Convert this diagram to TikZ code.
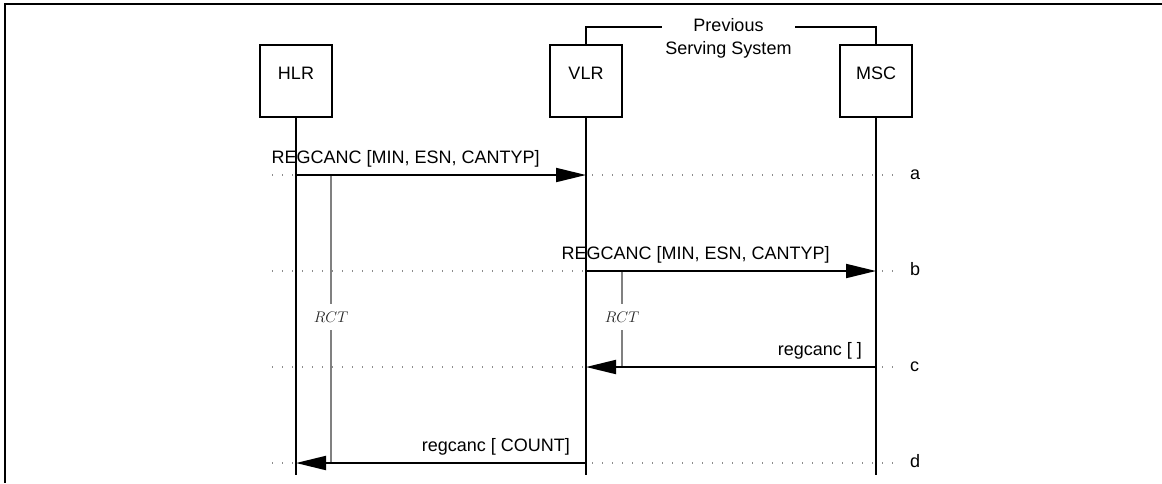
\documentclass[tikz,border=0pt]{standalone}
\usepackage{fontspec}
\setmainfont{Liberation Sans}
\usepackage{tikz}
\usetikzlibrary{
  arrows.meta,
  positioning,
  calc
}
\definecolor{scTimer}{HTML}{808080}
\definecolor{scGuide}{HTML}{8C8C8C}
\tikzset{
  entity/.style={
    draw, line width=2pt, minimum width=72pt, minimum height=72pt,
    inner sep=0pt, text height=12.9pt, text depth=16.9pt
  },
  lifeline/.style={line width=1.8pt},
  msgflow/.style={-{Triangle[length=30pt, width=14pt]}, line width=2pt},
  guideline/.style={scGuide, line width=1.2pt, dash pattern=on 1.2pt off 8.8pt},
  msgtag/.style={inner sep=0pt},
  timer/.style={scTimer, line width=2pt},
  timertag/.style={fill=white, text=black!85, inner xsep=2pt, inner ysep=7.5pt, scale=1.07, font=\fontsize{14.4}{18}\selectfont},
  steptag/.style={inner sep=0pt, anchor=base west},
  framebar/.style={line width=2.6pt},
  bracket/.style={line width=1.6pt}
}
\begin{document}
\begin{tikzpicture}[x=1pt, y=-1pt, node distance=216pt, font=\fontsize{18}{23}\selectfont]
  \useasboundingbox (0,0) rectangle (1162,483);
  \draw[framebar] (1162,4) -| (5,483);

  % entities
  \node[entity] (hlr) at (296,81) {HLR};
  \node[entity, right=of hlr] (vlr) {VLR};
  \node[entity, right=of vlr] (msc) {MSC};

  \foreach \ent in {hlr, vlr, msc} {
    \coordinate (\ent-end) at (\ent.south |- 0,475);
    \foreach \msg/\ypos in {a/175, b/271, c/367, d/463}
      \coordinate (\ent-\msg) at (\ent.south |- 0,\ypos);
  }

  % guides and step letters
  \foreach \msg in {a, b, c, d} {
    \draw[guideline] ([xshift=-24pt]hlr-\msg) -- ([xshift=21pt]msc-\msg);
    \node[steptag] (tag-\msg) at ([xshift=34pt, yshift=-4pt]msc-\msg) {\msg};
  }

  \foreach \ent in {hlr, vlr, msc}
    \draw[lifeline] (\ent.south) -- (\ent-end);

  % previous serving system
  \coordinate (pss-y) at (0,27);
  \node[inner xsep=3pt, inner ysep=0pt, align=center, anchor=base] (pss) at (728.5,54) {Previous\\Serving System};
  \draw[bracket] (vlr.north) |- (pss.west |- pss-y);
  \draw[bracket] (msc.north) |- (pss.east |- pss-y);

  % timers
  \coordinate (rct-hlr-top) at ([xshift=35pt]hlr-a);
  \coordinate (rct-hlr-bot) at ([xshift=35pt]hlr-d);
  \coordinate (rct-vlr-top) at ([xshift=36pt]vlr-b);
  \coordinate (rct-vlr-bot) at ([xshift=36pt]vlr-c);
  \draw[timer] (rct-hlr-top) -- node[timertag, pos=0.493] (rct-hlr) {$RCT$} (rct-hlr-bot);
  \draw[timer] (rct-vlr-top) -- node[timertag, pos=0.479] (rct-vlr) {$RCT$} (rct-vlr-bot);

  % messages
  \draw[msgflow] (hlr-a) -- (vlr-a);
  \node[msgtag, anchor=base west] (lbl-a) at ([xshift=-24.5pt, yshift=12pt]hlr-a) {REGCANC [MIN, ESN, CANTYP]};
  \draw[msgflow] (vlr-b) -- (msc-b);
  \node[msgtag, anchor=base west] (lbl-b) at ([xshift=-24.5pt, yshift=12pt]vlr-b) {REGCANC [MIN, ESN, CANTYP]};
  \draw[msgflow] (msc-c) -- (vlr-c);
  \node[msgtag, anchor=base east] (lbl-c) at ([xshift=-14pt, yshift=12pt]msc-c) {regcanc [ ]};
  \draw[msgflow] (vlr-d) -- (hlr-d);
  \node[msgtag, anchor=base east] (lbl-d) at ([xshift=-16pt, yshift=12pt]vlr-d) {regcanc [ COUNT]};
\end{tikzpicture}
\end{document}
